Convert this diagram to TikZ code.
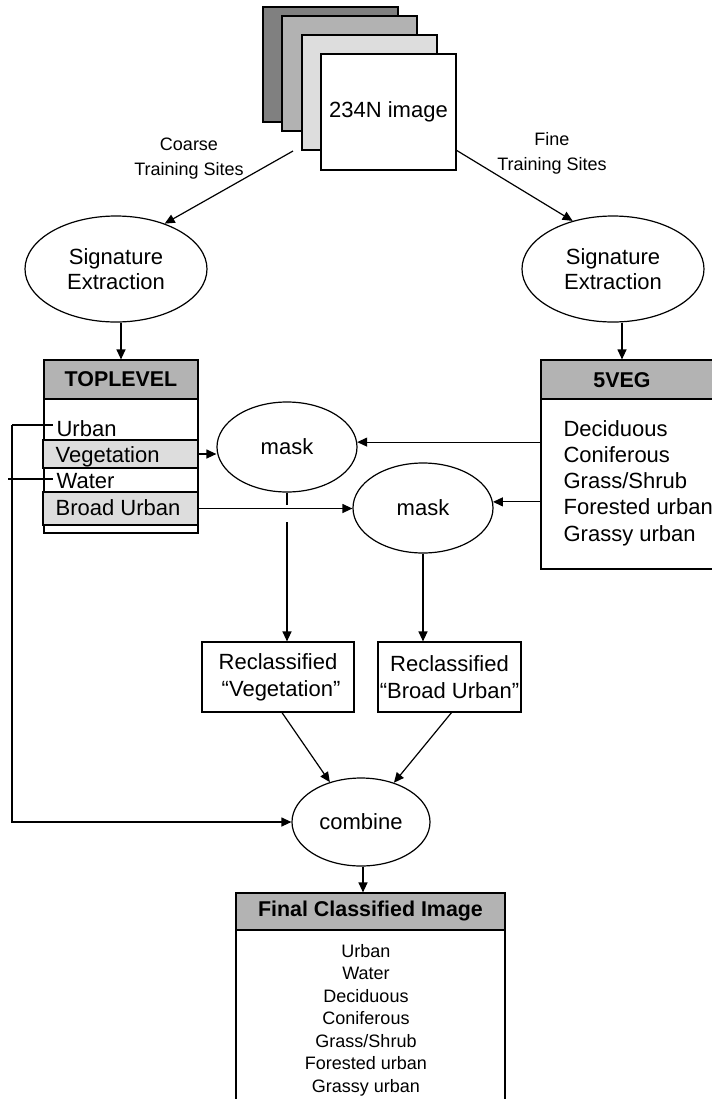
\documentclass[tikz,border=0pt]{standalone}
\usepackage{fontspec}
\setmainfont{Liberation Sans}
\usetikzlibrary{arrows.meta,shapes.geometric,calc}
\definecolor{hdr}{HTML}{B3B3B3}
\definecolor{lg}{HTML}{DDDDDD}
\definecolor{mg}{HTML}{B2B2B2}
\definecolor{dg}{HTML}{808080}
\newcommand\mainsz{\fontsize{11}{12.5}\selectfont}
\newcommand\recsz{\fontsize{11}{13.5}\selectfont}
\newcommand\smallsz{\fontsize{9}{12.5}\selectfont}
\newcommand\listsz{\fontsize{9}{11}\selectfont}
\newcommand\hdsz{\fontsize{10.7}{12}\selectfont\bfseries}
\begin{document}
\begin{tikzpicture}[x=0.5pt,y=-0.5pt,line width=0.6pt,
  arr/.style={-{Triangle[length=5pt,width=4.5pt]}},
  box/.style={draw,rectangle,inner sep=0pt},
  oval/.style={draw,ellipse,inner sep=0pt,align=center,font=\mainsz},
  itemtxt/.style={font=\mainsz,anchor=base west,inner sep=0pt},
  thickbox/.style={box,fill=lg,line width=1.3pt,minimum width=77.5pt}]
\useasboundingbox (0,0) rectangle (712,1099);
\clip (0,0) rectangle (712,1099);
\fill[white] (0,0) rectangle (712,1099);

% image stack
\node[box,fill=dg,minimum width=67.5pt,minimum height=57.5pt] (s1) at (330.5,64.5) {};
\node[box,fill=mg,minimum width=67.5pt,minimum height=57.5pt] (s2) at (349.5,73.5) {};
\node[box,fill=lg,minimum width=67.5pt,minimum height=57.5pt] (s3) at (369.5,92.5) {};
\node[box,fill=white,minimum width=67.5pt,minimum height=58pt,font=\mainsz] (img) at (388.5,112) {234N image};

% training site labels
\node[font=\smallsz,align=center] (coarse) at (189,159) {Coarse\\Training Sites};
\node[font=\smallsz,align=center] (fine) at (552,153) {Fine\\Training Sites};

% signature extraction
\node[oval,minimum width=91pt,minimum height=53pt] (e1) at (116,269) {Signature\\Extraction};
\node[oval,minimum width=91pt,minimum height=53pt] (e2) at (613,269) {Signature\\Extraction};
\coordinate (cA) at (293,151);
\coordinate (cB) at (456,150);
\draw[arr] (cA) -- (e1.43);
\draw[arr] (cB) -- (e2.130);

% TOPLEVEL
\node[box,fill=hdr,minimum width=77pt,minimum height=19.5pt,font=\hdsz] (tlh) at (121,379.5) {TOPLEVEL};
\node[box,minimum width=77pt,minimum height=67pt] (tlb) at (121,466) {};
\draw[arr] (e1.south -| tlh.north) -- (tlh.north);
\node[thickbox,minimum height=14pt] (vegb) at (120.5,454) {};
\node[thickbox,minimum height=16.5pt] (bub) at (120.5,508.5) {};
\node[itemtxt,inner xsep=1.5pt] (urb) at (53,436) {Urban};
\node[itemtxt] (vegt) at (55,462) {Vegetation};
\node[itemtxt,inner xsep=1.5pt] (wat) at (53,488) {Water};
\node[itemtxt] (but) at (55,515) {Broad Urban};

% 5VEG
\node[box,fill=hdr,minimum width=86.5pt,minimum height=19.5pt] (vgh) at (627.5,379.5) {};
\node[font=\hdsz] (vgt) at (622,380) {5VEG};
\node[box,minimum width=86.5pt,minimum height=85pt] (vgb) at (627.5,484) {};
\draw[arr] (e2.south -| vgt) -- (vgt |- vgh.north);
\foreach \t [count=\i] in {Deciduous,Coniferous,Grass/Shrub,Forested urban,Grassy urban}
  \node[itemtxt] (v\i) at (563,{436+26.25*(\i-1)}) {\t};

% masks
\node[oval,minimum width=70pt,minimum height=45pt] (m1) at (287,447) {mask};
\node[oval,minimum width=70pt,minimum height=45pt] (m2) at (423,508) {mask};
\draw[arr] (vegb.east) -- (vegb.east -| m1.west);
\draw[arr] (vgb.west |- m1.4) -- (m1.4);
\draw[arr] (vgb.west |- m2.5) -- (m2.5);

% reclassified
\node[box,minimum width=76pt,minimum height=35pt,font=\recsz,align=center] (r1) at (278,677) {Reclassified\\\ “Vegetation”};
\node[box,minimum width=71.5pt,minimum height=35pt,font=\recsz,align=center] (r2) at (449.5,677) {Reclassified\\“Broad Urban”};
\coordinate (G1) at (287,504.5);
\coordinate (G2) at (287,522);
\draw (m1.south) -- (G1);
\draw[arr] (G2) -- (G2 |- r1.north);
\draw[arr] (bub.east) -- (bub.east -| m2.west);
\draw[arr] (m2.south) -- (m2.south |- r2.north);

% combine
\node[oval,minimum width=69pt,minimum height=44pt] (comb) at (361,822) {combine};
\draw[arr] ($(r1.south)+(4,0)$) -- (comb.128);
\draw[arr] ($(r2.south)+(2,0)$) -- (comb.50);
\coordinate (L1) at (12,425);
\coordinate (L2) at (12,822);
\coordinate (W0) at (8,479);
\draw (L1) -- (urb.west |- L1);
\draw (W0) -- (wat.west |- W0);
\draw[arr] (L1) -- (L2) -- (comb.west);

% final
\node[box,fill=hdr,minimum width=134.5pt,minimum height=18.5pt,font=\hdsz] (fh) at (370.5,911.5) {Final Classified Image};
\node[box,minimum width=134.5pt,minimum height=92pt] (fb) at (370.5,1022) {};
\draw[arr] ($(comb.south)+(2,0)$) -- ($(comb.south |- fh.north)+(2,0)$);
\foreach \t [count=\i] in {Urban,Water,Deciduous,Coniferous,Grass/Shrub,Forested urban,Grassy urban}
  \node[font=\listsz,anchor=base,inner sep=0pt] (f\i) at (366,{957+22.5*(\i-1)}) {\t};
\end{tikzpicture}
\end{document}
